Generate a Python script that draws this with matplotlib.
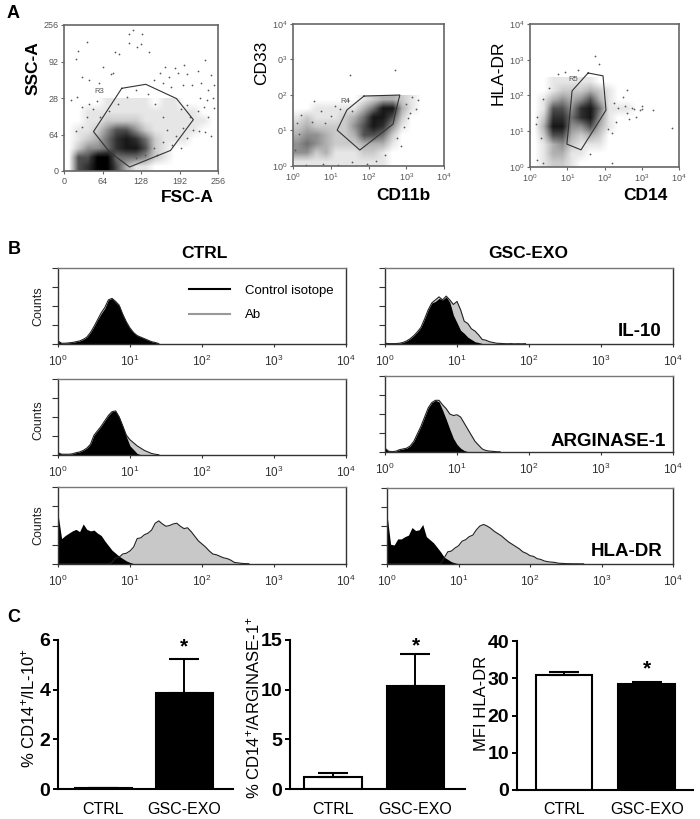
#!/usr/bin/env python3
import matplotlib
matplotlib.use("Agg")
import matplotlib.pyplot as plt
import numpy as np
from matplotlib.colors import LinearSegmentedColormap
from matplotlib.lines import Line2D

plt.rcParams["font.family"] = ["Liberation Sans", "DejaVu Sans"]
plt.rcParams["mathtext.default"] = "regular"

W, H = 700, 819

FSC_SSC_DENSITY = [
    "0679963110000000",
    "0669955542100000",
    "0244578862100000",
    "0123578752111000",
    "0112466421111100",
    "0011222211111110",
    "0011111111111100",
    "0000111110110000",
]
CD11B_CD33_DENSITY = [
    "1111111111000000",
    "4423111221000000",
    "4543222333100000",
    "3443223665200000",
    "2322224687410000",
    "1211123588620000",
    "0011111358831000",
    "0000000123321000",
]
CD14_HLA_DENSITY = [
    "0122100000000000",
    "0133110000000000",
    "0134211100000000",
    "0266323200000000",
    "0388446310000000",
    "0277578410000000",
    "0166478511100000",
    "0134346310000000",
    "0012223210000000",
    "0011111000000000",
]

FSC_SSC_POINTS = [
    (115, 247), (108, 240), (130, 240), (128, 222), (108, 225), (122, 218), (38, 227), (23, 210),
    (20, 197), (85, 208), (92, 206), (142, 208), (168, 183), (185, 180), (200, 185), (235, 195),
    (65, 183), (82, 172), (78, 170), (30, 165), (42, 160), (58, 155), (12, 125), (22, 130),
    (30, 112), (42, 118), (55, 122), (160, 172), (175, 165), (190, 172), (205, 170), (222, 175),
    (245, 168), (250, 150), (240, 142), (228, 155), (212, 150), (198, 150), (178, 148), (165, 155),
    (150, 160), (238, 125), (248, 128), (232, 112), (222, 105), (240, 95), (245, 62), (235, 68),
    (225, 70), (215, 72), (205, 58), (198, 75), (210, 95), (195, 108), (205, 115), (186, 62),
    (172, 72), (165, 95), (152, 118), (140, 135), (120, 142), (105, 130), (90, 118), (75, 105),
    (60, 95), (38, 95), (48, 108), (30, 78), (20, 70), (250, 110), (226, 128), (180, 45),
    (165, 50), (150, 40), (135, 28), (120, 22), (195, 40), (155, 28),
]
CD11B_CD33_POINTS = [
    (0.55, 1.83), (1.45, 1.85), (1.1, 1.7), (0.2, 1.45), (0.75, 1.55), (1.0, 1.4), (1.25, 1.6),
    (0.1, 1.2), (0.5, 1.25), (0.85, 1.2), (1.55, 1.55), (3.15, 1.95), (3.3, 1.85), (3.25, 1.6),
    (3.05, 1.35), (2.95, 1.1), (2.85, 0.55), (2.45, 0.3), (2.2, 0.15), (1.95, 0.05), (1.55, 0.1),
    (1.2, 0.02), (0.8, 0.05), (0.35, 0.03), (2.75, 0.8), (2.7, 2.7), (0.15, 0.9), (0.05, 0.45),
    (1.5, 2.55), (3.0, 1.75), (3.1, 1.5),
]
CD14_HLA_POINTS = [
    (0.2, 0.2), (0.35, 0.1), (0.2, 1.4), (0.15, 1.2), (0.3, 0.8), (0.35, 1.9), (0.5, 2.2),
    (0.75, 2.6), (0.95, 2.65), (1.3, 2.72), (1.75, 3.1), (1.85, 2.88), (2.25, 1.78), (2.35, 1.65),
    (2.55, 1.7), (2.6, 1.5), (2.75, 1.65), (2.8, 1.62), (2.95, 1.6), (3.0, 1.7), (3.0, 1.62),
    (2.5, 1.95), (2.6, 2.15), (3.3, 1.6), (3.8, 1.1), (2.3, 1.25), (2.1, 1.05), (2.2, 0.95),
    (2.2, 0.12), (1.6, 0.35), (2.65, 1.35), (2.85, 1.4),
]

FSC_SSC_GATE = [(96, 145), (136, 152), (187, 127), (215, 90), (177, 36), (109, 7), (76, 33), (49, 69)]
CD11B_CD33_GATE = [(1.88, 1.97), (2.83, 2.0), (2.73, 1.58), (2.65, 1.18), (1.77, 0.45), (1.17, 1.01), (1.43, 1.58)]
CD14_HLA_GATE = [(1.56, 2.63), (1.96, 2.55), (2.04, 1.59), (1.37, 0.48), (0.99, 0.64), (1.13, 2.13)]

LINEAR_TICKS = [0, 64, 128, 192, 256]
SSC_LABELS = ["0", "64", "28", "92", "256"]
FSC_LABELS = ["0", "64", "128", "192", "256"]
DECADE_LABELS = ["10$^{0}$", "10$^{1}$", "10$^{2}$", "10$^{3}$", "10$^{4}$"]
CD33_LABELS = ["10$^{0}$", "0$^{1}$", "0$^{2}$", "0$^{3}$", "10$^{4}$"]

# --- panel B: histogram heights in % of the axis, one value per 0.05 decade from 10^0
BIN = 0.05
CTRL_IL10_ISO = [4, 1, 1, 1.5, 2, 3, 4, 6, 9, 15, 23, 32, 40, 47, 58, 60, 55, 50, 38, 28, 20, 15, 11, 9, 7, 5, 3, 2, 0.5]
CTRL_IL10_AB = [4, 1, 1, 1.5, 2, 3, 4, 6, 9, 15, 23, 32, 41, 48, 58, 60, 56, 51, 39, 29, 21, 15, 11, 9, 7, 5, 3, 2, 0.5]
CTRL_ARG_ISO = [3, 1, 1, 1, 1.5, 3, 4, 6, 9, 14, 26, 32, 38, 45, 52, 57, 58, 50, 38, 24, 12, 7, 2, 0.5]
CTRL_ARG_AB = [3, 1, 1, 1, 1.5, 3, 4, 6, 9, 14, 26, 32, 38, 45, 52, 57, 58, 50, 38, 26, 20, 16, 12, 9, 6, 4, 2, 1, 0.3]
CTRL_HLA_ISO = [65, 33, 37, 40, 43, 45, 42, 52, 45, 43, 44, 40, 37, 30, 24, 18, 14, 10, 7, 4, 2, 0.5]
CTRL_HLA_AB = [0, 0, 0, 0, 0, 0, 0, 0, 0, 0, 0, 0, 0, 0, 0, 2, 8, 9, 13, 14, 17, 22, 33, 34, 38, 40, 44, 53, 56, 52,
               49, 50, 52, 53, 49, 46, 47, 42, 36, 30, 26, 22, 17, 13, 12, 10, 8, 7, 5, 2, 1.5, 0.8, 0.5, 0.4]
EXO_IL10_ISO = [1, 0.5, 0.5, 0.5, 1, 2, 4, 7, 11, 16, 22, 33, 45, 54, 56, 60, 58, 62, 55, 38, 28, 18, 14, 9, 6, 3, 2, 0.7, 0.2]
EXO_IL10_AB = [1, 0.5, 0.5, 0.5, 1, 2, 4, 7, 11, 16, 22, 33, 45, 54, 58, 62, 58, 63, 58, 52, 56, 45, 30, 27, 20, 17, 12,
               6, 5, 3, 2, 1, 0.8, 0.5, 0.3, 0.5, 0.2, 0.4, 0.2, 0.5]
EXO_ARG_ISO = [5, 1, 0.5, 1, 3, 4, 5, 8, 14, 24, 34, 46, 58, 65, 68, 66, 55, 43, 30, 18, 10, 5, 2, 0.5]
EXO_ARG_AB = [5, 1, 0.5, 1, 3, 4, 5, 8, 14, 24, 34, 46, 58, 65, 68, 68, 62, 57, 50, 48, 49, 46, 38, 30, 22, 14, 9, 4, 2,
              1.2, 0.8, 0.4, 0.2]
EXO_HLA_ISO = [65, 26, 25, 33, 33, 36, 38, 48, 44, 45, 52, 36, 32, 28, 22, 16, 9, 6, 3, 1.5, 0.3]
EXO_HLA_AB = [0, 0, 0, 0, 0, 0, 0, 0, 0, 0, 0, 0, 0, 0, 0, 0, 8, 16, 17, 21, 24, 30, 32, 36, 38, 45, 50, 52, 50, 47, 43,
              40, 37, 33, 29, 26, 23, 20, 16, 14, 11, 10, 7, 6, 4, 3, 2.5, 2, 1, 0.8, 0.5, 0.4, 0.3, 0.3, 0.2, 0.2]

# --- panel C
BAR_CATEGORIES = ["CTRL", "GSC-EXO"]
IL10_VALUES = [0.05, 3.85]
IL10_ERR = [0, 1.4]
ARG_VALUES = [1.2, 10.4]
ARG_ERR = [0.4, 3.15]
HLA_VALUES = [31, 28.5]
HLA_ERR = [0.8, 0.5]

density_cmap = LinearSegmentedColormap.from_list(
    "dots",
    [(0, "#ffffff"), (1 / 9, "#e6e6e6"), (3 / 9, "#b0b0b0"), (5 / 9, "#707070"), (7 / 9, "#303030"), (1, "#000000")],
)


def px_axes(fig, left, top, right, bottom):
    return fig.add_axes([left / W, 1 - bottom / H, (right - left) / W, (bottom - top) / H])


def px_text(fig, x, y, s, **kw):
    kw.setdefault("ha", "center")
    kw.setdefault("va", "center")
    fig.text(x / W, 1 - y / H, s, **kw)


def draw_dots(ax, density, points, gate, extent, ticks, xlabels, ylabels, gate_label, label_xy):
    grid = np.array([[int(c) for c in row] for row in density])
    cell_h = (extent[1] - extent[0]) / grid.shape[1]
    ax.imshow(grid, origin="lower", cmap=density_cmap, vmin=0, vmax=9, interpolation="bilinear", aspect="auto",
              extent=(extent[0], extent[1], 0, cell_h * grid.shape[0]))
    pts = np.array(points)
    ax.scatter(pts[:, 0], pts[:, 1], s=1.6, color="#555555", linewidths=0)
    closed = gate + gate[:1]
    ax.plot([p[0] for p in closed], [p[1] for p in closed], color="#333333", lw=0.8)
    ax.text(label_xy[0], label_xy[1], gate_label, fontsize=5.5, color="#555555", ha="center", va="center")
    ax.set_xlim(extent)
    ax.set_ylim(extent)
    ax.set_xticks(ticks, xlabels)
    ax.set_yticks(ticks, ylabels)
    ax.tick_params(length=2, width=0.8, color="#666666", labelsize=6.5, labelcolor="#555555", pad=2)
    for s in ax.spines.values():
        s.set_color("#666666")
        s.set_linewidth(1.2)


def draw_hist(ax, iso, ab):
    x_ab = np.arange(len(ab)) * BIN
    x_iso = np.arange(len(iso)) * BIN
    ax.fill_between(x_ab, ab, color="#c8c8c8", lw=0)
    ax.plot(x_ab, ab, color="#222222", lw=0.8)
    ax.fill_between(x_iso, iso, color="black", lw=0)
    ax.set_xlim(0, 4)
    ax.set_ylim(0, 100)
    ax.set_xticks(range(5), DECADE_LABELS)
    ax.set_yticks([0, 25, 50, 75, 100], [])
    ax.tick_params(axis="y", length=4, width=0.8, color="#333333")
    ax.tick_params(axis="x", length=2, width=0.8, color="#333333", labelsize=8.5, labelcolor="#333333", pad=5)
    for name, s in ax.spines.items():
        s.set_color("#777777" if name == "top" else "#333333")
        s.set_linewidth(1.0)


def draw_bars(ax, values, errs, ymax, ticks, centers, bar_w, star_y):
    xs = [0, 1]
    ax.bar(xs, values, bar_w, color=["white", "black"], edgecolor="black", linewidth=1.5)
    ax.errorbar(xs, values, yerr=[[0, 0], errs], fmt="none", ecolor="black", elinewidth=1.4, capsize=10.5, capthick=1.5)
    ax.set_ylim(0, ymax)
    ax.set_xlim(centers)
    ax.set_xticks(xs, BAR_CATEGORIES)
    ax.set_yticks(ticks)
    ax.tick_params(axis="x", length=0, pad=9, labelsize=11.5)
    ax.tick_params(axis="y", length=3.5, width=1.4, labelsize=14, pad=2)
    for label in ax.get_yticklabels():
        label.set_fontweight("bold")
    ax.spines["top"].set_visible(False)
    ax.spines["right"].set_visible(False)
    ax.spines["left"].set_linewidth(1.5)
    ax.spines["bottom"].set_linewidth(1.5)
    ax.text(1, star_y, "*", ha="center", va="center", fontsize=15, fontweight="bold")


fig = plt.figure(figsize=(W / 100, H / 100), dpi=100, facecolor="white")

# panel A
ax = px_axes(fig, 64, 25, 218, 171)
draw_dots(ax, FSC_SSC_DENSITY, FSC_SSC_POINTS, FSC_SSC_GATE, (0, 256), LINEAR_TICKS, FSC_LABELS, SSC_LABELS, "R3", (59, 140))
ax = px_axes(fig, 293, 24, 444, 166)
draw_dots(ax, CD11B_CD33_DENSITY, CD11B_CD33_POINTS, CD11B_CD33_GATE, (0, 4), range(5), DECADE_LABELS, CD33_LABELS, "R4", (1.38, 1.83))
ax = px_axes(fig, 530, 24, 679, 167)
draw_dots(ax, CD14_HLA_DENSITY, CD14_HLA_POINTS, CD14_HLA_GATE, (0, 4), range(5), DECADE_LABELS, DECADE_LABELS, "R5", (1.15, 2.45))

px_text(fig, 33, 68, "SSC-A", rotation=90, fontsize=12.5, fontweight="bold")
px_text(fig, 187, 198, "FSC-A", fontsize=12.5, fontweight="bold")
px_text(fig, 262, 63, "CD33", rotation=90, fontsize=12.5)
px_text(fig, 403, 196, "CD11b", fontsize=12.5, fontweight="bold")
px_text(fig, 498, 73, "HLA-DR", rotation=90, fontsize=12.5)
px_text(fig, 645, 196, "CD14", fontsize=12.5, fontweight="bold")

# panel B
ctrl_rows = [(268, 344, CTRL_IL10_ISO, CTRL_IL10_AB), (379, 455, CTRL_ARG_ISO, CTRL_ARG_AB), (487, 564, CTRL_HLA_ISO, CTRL_HLA_AB)]
exo_rows = [(268, 344, 385, 673, EXO_IL10_ISO, EXO_IL10_AB), (376, 452, 385, 673, EXO_ARG_ISO, EXO_ARG_AB),
            (488, 564, 387, 673, EXO_HLA_ISO, EXO_HLA_AB)]
first_ax = None
for top, bottom, iso, ab in ctrl_rows:
    ax = px_axes(fig, 58, top, 346, bottom)
    draw_hist(ax, iso, ab)
    first_ax = first_ax or ax
for top, bottom, left, right, iso, ab in exo_rows:
    ax = px_axes(fig, left, top, right, bottom)
    draw_hist(ax, iso, ab)

handles = [Line2D([], [], color="black", lw=1.5), Line2D([], [], color="#999999", lw=1.5)]
first_ax.legend(handles, ["Control isotope", "Ab"], loc="center left", bbox_to_anchor=(0.455, 0.54), frameon=False,
                fontsize=9.5, handlelength=3.1, handletextpad=1.15, labelspacing=0.95, borderpad=0, borderaxespad=0)

px_text(fig, 204, 254, "CTRL", fontsize=12.5, fontweight="bold")
px_text(fig, 528, 253, "GSC-EXO", fontsize=12.5, fontweight="bold")
for y in (306, 420, 525):
    px_text(fig, 38, y, "Counts", rotation=90, fontsize=9, color="#222222")
px_text(fig, 640, 332, "IL-10", fontsize=13.5, fontweight="bold")
px_text(fig, 608, 442, "ARGINASE-1", fontsize=13.5, fontweight="bold")
px_text(fig, 627, 551, "HLA-DR", fontsize=13.5, fontweight="bold")

# panel C
ax = px_axes(fig, 58, 640, 233, 789)
draw_bars(ax, IL10_VALUES, IL10_ERR, 6, [0, 2, 4, 6], (-0.562, 1.6), 0.7, 5.72)
ax = px_axes(fig, 290, 640, 465, 789)
draw_bars(ax, ARG_VALUES, ARG_ERR, 15, [0, 5, 10, 15], (-0.52, 1.6), 0.7, 14.4)
ax = px_axes(fig, 517, 641, 693, 790)
draw_bars(ax, HLA_VALUES, HLA_ERR, 40, [0, 10, 20, 30, 40], (-0.57, 1.56), 0.685, 32.6)

px_text(fig, 28, 708, "% CD14$^{+}$/IL-10$^{+}$", rotation=90, fontsize=12)
px_text(fig, 253, 707, "% CD14$^{+}$/ARGINASE-1$^{+}$", rotation=90, fontsize=12)
px_text(fig, 482, 703, "MFI HLA-DR", rotation=90, fontsize=12)

px_text(fig, 13, 14, "A", fontsize=13, fontweight="bold")
px_text(fig, 14, 249, "B", fontsize=13, fontweight="bold")
px_text(fig, 14, 617, "C", fontsize=13, fontweight="bold")

fig.savefig("out.png", dpi=100)
